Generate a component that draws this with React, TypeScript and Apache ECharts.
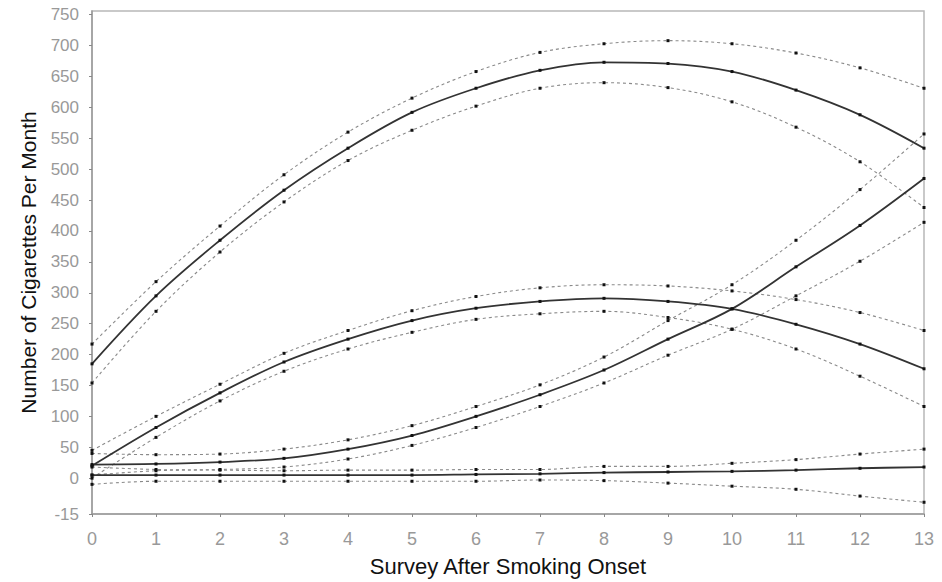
import React, { useEffect, useRef } from "react";
import * as echarts from "echarts";

const years = [0, 1, 2, 3, 4, 5, 6, 7, 8, 9, 10, 11, 12, 13];

const meanA = [185, 295, 385, 466, 534, 592, 631, 660, 673, 671, 658, 628, 588, 534];
const upperA = [217, 318, 408, 491, 560, 615, 658, 689, 703, 708, 703, 688, 664, 631];
const lowerA = [154, 270, 366, 447, 514, 563, 602, 631, 640, 632, 609, 568, 512, 438];

const meanB = [20, 82, 138, 188, 225, 255, 275, 286, 291, 286, 274, 249, 217, 177];
const upperB = [45, 100, 152, 202, 239, 271, 294, 308, 313, 311, 303, 289, 268, 239];
const lowerB = [0, 66, 125, 173, 209, 236, 257, 266, 270, 260, 241, 209, 165, 116];

const meanC = [22, 23, 26, 32, 47, 69, 100, 135, 175, 225, 274, 342, 409, 485];
const upperC = [40, 38, 39, 47, 62, 85, 116, 151, 196, 255, 313, 385, 467, 557];
const lowerC = [5, 12, 14, 18, 31, 53, 82, 116, 154, 199, 241, 295, 351, 414];

const meanD = [5, 5, 5, 5, 5, 5, 6, 7, 9, 10, 11, 13, 16, 18];
const upperD = [18, 14, 13, 12, 13, 13, 14, 14, 19, 19, 24, 30, 39, 47];
const lowerD = [-10, -5, -5, -5, -5, -5, -5, -3, -4, -8, -13, -18, -29, -39];

const yTickValues = [-58, 0, 50, 100, 150, 200, 250, 300, 350, 400, 450, 500, 550, 600, 650, 700, 750];
const yTickLabels = ["-15", "0", "50", "100", "150", "200", "250", "300", "350", "400", "450", "500", "550", "600", "650", "700", "750"];
const xTickLabels = ["0", "1", "2", "3", "4", "5", "6", "7", "8", "9", "10", "11", "12", "13"];

const FONT = "'Liberation Sans', Arial, sans-serif";

function pairs(vals: number[]) {
  return years.map((x, i) => [x, vals[i]]);
}

function makeSeries(name: string, vals: number[], solid: boolean) {
  return {
    name,
    type: "line",
    data: pairs(vals),
    smooth: 0.35,
    symbol: "rect",
    symbolSize: 3,
    showSymbol: true,
    itemStyle: { color: "#111" },
    lineStyle: solid
      ? { color: "#333", width: 1.8, type: "solid" }
      : { color: "#8a8a8a", width: 1.1, type: [3, 3] },
    z: solid ? 3 : 2,
  };
}

export default function App() {
  const ref = useRef<HTMLDivElement>(null);
  useEffect(() => {
    if (!ref.current) return;
    const chart = echarts.init(ref.current, null, { renderer: "svg" });
    chart.setOption({
      animation: false,
      backgroundColor: "#fff",
      grid: {
        left: 92,
        right: 18,
        top: 11,
        bottom: 64,
        show: true,
        borderColor: "#b8b8b8",
        borderWidth: 1.5,
        containLabel: false,
      },
      xAxis: {
        type: "value",
        min: 0,
        max: 13,
        interval: 1,
        name: "Survey After Smoking Onset",
        nameLocation: "middle",
        nameGap: 41,
        nameTextStyle: { color: "#111", fontSize: 22, fontFamily: FONT },
        axisLine: { show: true, onZero: false, lineStyle: { color: "#9a9a9a", width: 1.5 } },
        axisTick: { show: true, length: 3, lineStyle: { color: "#888" } },
        axisLabel: {
          color: "#999",
          fontSize: 18,
          fontFamily: FONT,
          margin: 16,
          formatter: (v: number) => xTickLabels[v] ?? String(v),
        },
        splitLine: { show: false },
      },
      yAxis: {
        type: "value",
        min: -58,
        max: 756,
        name: "Number of Cigarettes Per Month",
        nameLocation: "middle",
        nameGap: 53,
        nameTextStyle: { color: "#111", fontSize: 21, fontFamily: FONT },
        axisLine: { show: true, onZero: false, lineStyle: { color: "#9a9a9a", width: 1.5 } },
        axisTick: { show: true, length: 3, customValues: yTickValues, lineStyle: { color: "#888" } },
        axisLabel: {
          color: "#999",
          fontSize: 17,
          fontFamily: FONT,
          margin: 13,
          customValues: yTickValues,
          showMinLabel: true,
          showMaxLabel: true,
          formatter: (v: number) => {
            const i = yTickValues.indexOf(v);
            return i >= 0 ? yTickLabels[i] : "";
          },
        },
        splitLine: { show: false },
      },
      series: [
        makeSeries("Upper A", upperA, false),
        makeSeries("Mean A", meanA, true),
        makeSeries("Lower A", lowerA, false),
        makeSeries("Upper B", upperB, false),
        makeSeries("Mean B", meanB, true),
        makeSeries("Lower B", lowerB, false),
        makeSeries("Upper C", upperC, false),
        makeSeries("Mean C", meanC, true),
        makeSeries("Lower C", lowerC, false),
        makeSeries("Upper D", upperD, false),
        makeSeries("Mean D", meanD, true),
        makeSeries("Lower D", lowerD, false),
      ],
    });
    return () => chart.dispose();
  }, []);
  return (
    <div
      ref={ref}
      style={{ position: "fixed", left: 0, top: 0, width: 942, height: 582, background: "#fff" }}
    />
  );
}
